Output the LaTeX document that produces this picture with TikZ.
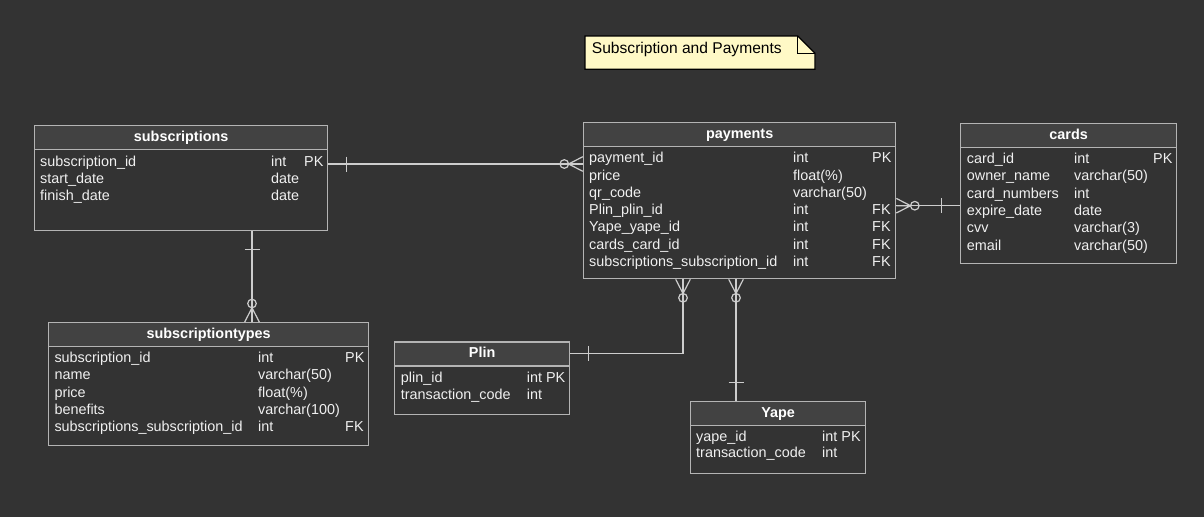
\documentclass[tikz,border=0pt]{standalone}
\usepackage{fontspec}
\setmainfont{Liberation Sans}
\usepackage{xcolor}
\usetikzlibrary{positioning, calc}
\definecolor{canvas}{HTML}{333333}
\definecolor{headfill}{HTML}{424242}
\definecolor{tableedge}{HTML}{B4B4B4}
\definecolor{linkedge}{HTML}{CDCDCD}
\definecolor{notefill}{HTML}{FFF9C6}
\tikzset{
  tablebox/.style={draw=tableedge, line width=1.3pt, fill=canvas, anchor=north west, inner sep=0pt},
  tablehead/.style={draw=tableedge, line width=1.3pt, fill=headfill, anchor=north west, inner sep=0pt,
    minimum height=24pt, text=white, text height=10.5pt, text depth=3pt, font=\bfseries\fontsize{14.4}{17}\selectfont},
  field/.style={anchor=base west, inner sep=0pt, text=white!94!black, font=\fontsize{14.4}{17}\selectfont},
  rel/.style={draw=linkedge, line width=1.2pt},
  barone/.pic={\draw[rel] (0,-7.5) -- (0,7.5);},
  crowfoot/.pic={\draw[rel] (0,0) circle[radius=4.3];
    \draw[rel] (4.3,0) -- (18.5,-7.3) (4.3,0) -- (18.5,7.3) (4.3,0) -- (18.5,0);}
}

\begin{document}
\begin{tikzpicture}[x=1pt, y=-1pt]
        % Background
        \fill[canvas] (0,0) rectangle (1204,517);
        \useasboundingbox (0,0) rectangle (1204,517);

        % Title note
        \draw[fill=notefill, draw=black, line width=1.2pt] (585,36) -- (797.7,36) -- (815,53.3) -- (815,69.3) -- (585,69.3) -- cycle;
        \draw[black, line width=1.2pt] (797.7,36) -- (797.7,53.3) -- (815,53.3);
        \node[field, text=black, font=\fontsize{15.6}{18}\selectfont] (note) at (591.7,53.3) {Subscription and Payments};

        % Define the tables
        \node[tablebox, minimum width=293pt, minimum height=105pt] (subscriptions) at (34,125) {};
        \node[tablehead, minimum width=293pt] (subscriptions-head) at (34,125) {subscriptions};
        \foreach \fname/\ftype/\fkey [count=\i] in {
          subscription\_id/int/PK, start\_date/date/, finish\_date/date/} {
          \node[field] (subscriptions-n\i) at (40,{166.5+17.2*(\i-1)}) {\fname};
          \node[field] (subscriptions-t\i) at (271,{166.5+17.2*(\i-1)}) {\ftype};
          \node[field] (subscriptions-k\i) at (304,{166.5+17.2*(\i-1)}) {\fkey};
        }

        \node[tablebox, minimum width=312pt, minimum height=156pt] (payments) at (583,122) {};
        \node[tablehead, minimum width=312pt] (payments-head) at (583,122) {payments};
        \foreach \fname/\ftype/\fkey [count=\i] in {
          payment\_id/int/PK, price/float(\%)/, qr\_code/varchar(50)/,
          Plin\_plin\_id/int/FK, Yape\_yape\_id/int/FK, cards\_card\_id/int/FK,
          subscriptions\_subscription\_id/int/FK} {
          \node[field] (payments-n\i) at (589,{162.7+17.3*(\i-1)}) {\fname};
          \node[field] (payments-t\i) at (793,{162.7+17.3*(\i-1)}) {\ftype};
          \node[field] (payments-k\i) at (872,{162.7+17.3*(\i-1)}) {\fkey};
        }

        \node[tablebox, minimum width=216pt, minimum height=139.5pt] (cards) at (960,123) {};
        \node[tablehead, minimum width=216pt] (cards-head) at (960,123) {cards};
        \foreach \fname/\ftype/\fkey [count=\i] in {
          card\_id/int/PK, owner\_name/varchar(50)/, card\_numbers/int/,
          expire\_date/date/, cvv/varchar(3)/, email/varchar(50)/} {
          \node[field] (cards-n\i) at (966.7,{163.3+17.35*(\i-1)}) {\fname};
          \node[field] (cards-t\i) at (1074,{163.3+17.35*(\i-1)}) {\ftype};
          \node[field] (cards-k\i) at (1153,{163.3+17.35*(\i-1)}) {\fkey};
        }

        \node[tablebox, minimum width=320pt, minimum height=123pt] (subtypes) at (48,322) {};
        \node[tablehead, minimum width=320pt] (subtypes-head) at (48,322) {subscriptiontypes};
        \foreach \fname/\ftype/\fkey [count=\i] in {
          subscription\_id/int/PK, name/varchar(50)/, price/float(\%)/,
          benefits/varchar(100)/, subscriptions\_subscription\_id/int/FK} {
          \node[field] (subtypes-n\i) at (54.3,{362.3+17.35*(\i-1)}) {\fname};
          \node[field] (subtypes-t\i) at (258,{362.3+17.35*(\i-1)}) {\ftype};
          \node[field] (subtypes-k\i) at (345,{362.3+17.35*(\i-1)}) {\fkey};
        }

        \node[tablebox, minimum width=175pt, minimum height=72.7pt] (plin) at (394,341.3) {};
        \node[tablehead, minimum width=175pt] (plin-head) at (394,341.3) {Plin};
        \foreach \fname/\ftype [count=\i] in {plin\_id/int PK, transaction\_code/int} {
          \node[field] (plin-n\i) at (400.7,{382.3+16.8*(\i-1)}) {\fname};
          \node[field] (plin-t\i) at (526.7,{382.3+16.8*(\i-1)}) {\ftype};
        }

        \node[tablebox, minimum width=175pt, minimum height=72pt] (yape) at (690,400.7) {};
        \node[tablehead, minimum width=175pt] (yape-head) at (690,400.7) {Yape};
        \foreach \fname/\ftype [count=\i] in {yape\_id/int PK, transaction\_code/int} {
          \node[field] (yape-n\i) at (696,{441+16.8*(\i-1)}) {\fname};
          \node[field] (yape-t\i) at (822,{441+16.8*(\i-1)}) {\ftype};
        }

        % Draw the relations
        \draw[rel] ($(subscriptions.north east)+(0,39)$) -- ($(payments.north west)+(0,42)$);
        \pic at ($(subscriptions.north east)+(18,39)$) {barone};
        \pic at ($(payments.north west)+(-18.7,42)$) {crowfoot};

        \draw[rel] ($(subscriptions.south west)+(218,0)$) -- ($(subtypes.north west)+(204,0)$);
        \pic[rotate=90] at ($(subscriptions.south west)+(218,18)$) {barone};
        \pic[rotate=-90] at ($(subtypes.north west)+(204,-18.5)$) {crowfoot};

        \draw[rel] ($(payments.north east)+(0,83.7)$) -- ($(cards.north west)+(0,82.7)$);
        \pic[rotate=180] at ($(payments.north east)+(18.5,83.7)$) {crowfoot};
        \pic at ($(cards.north west)+(-18.3,82.7)$) {barone};

        \draw[rel] ($(payments.south west)+(100,0)$) |- ($(plin.north east)+(0,12)$);
        \pic[rotate=90] at ($(payments.south west)+(100,18.5)$) {crowfoot};
        \pic at ($(plin.north east)+(18,12)$) {barone};

        \draw[rel] ($(payments.south west)+(153,0)$) -- ($(yape.north west)+(46,0)$);
        \pic[rotate=90] at ($(payments.south west)+(153,18.5)$) {crowfoot};
        \pic[rotate=90] at ($(yape.north west)+(46,-18.4)$) {barone};
    \end{tikzpicture}
\end{document}
